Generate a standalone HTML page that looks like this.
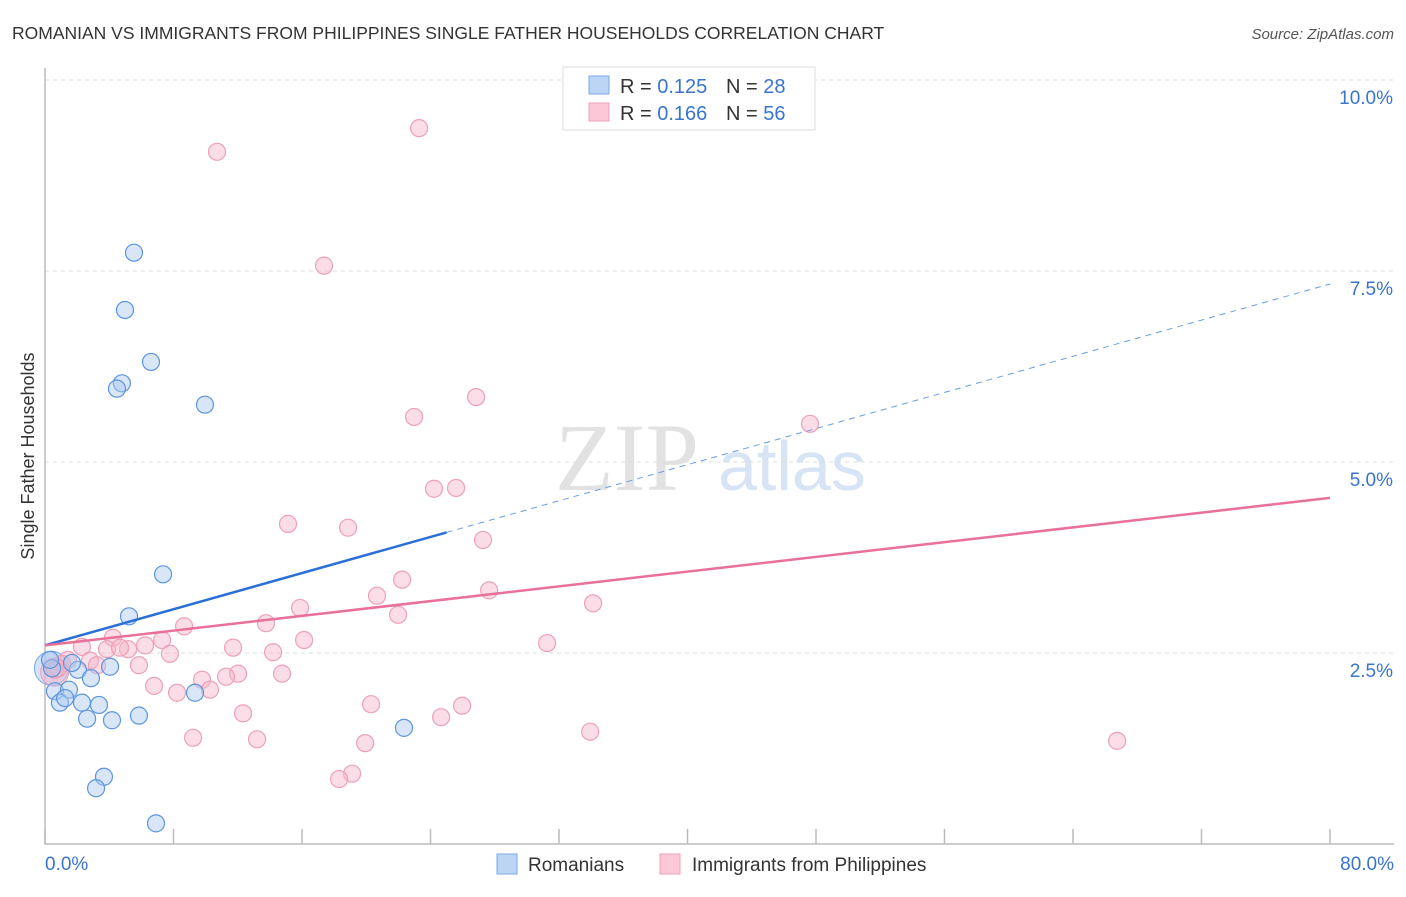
<!DOCTYPE html>
<html><head><meta charset="utf-8"><style>
body{margin:0;background:#fff;font-family:"Liberation Sans",sans-serif;}
</style></head><body>
<svg id="chart" width="1406" height="892" xmlns="http://www.w3.org/2000/svg" font-family="Liberation Sans, sans-serif">
<text x="12" y="39" font-size="17.5" fill="#333">ROMANIAN VS IMMIGRANTS FROM PHILIPPINES SINGLE FATHER HOUSEHOLDS CORRELATION CHART</text>
<text x="1394" y="39" font-size="15" fill="#555" text-anchor="end" font-style="italic">Source: ZipAtlas.com</text>
<text transform="translate(34,456) rotate(-90)" font-size="18" fill="#333" text-anchor="middle">Single Father Households</text>
<g><text x="555" y="490" font-size="96" fill="#e2e2e2" font-family="Liberation Serif, serif">ZIP</text><text x="718" y="490" font-size="70" fill="#d6e4f5">atlas</text></g>
<g id="grid"></g><g id="marks"></g><g id="trends"></g>
<g>
<rect x="563" y="67" width="252" height="63" fill="#fff" stroke="#ddd"/>
<rect x="589" y="76" width="20" height="18" fill="#bcd5f5" stroke="#7aaae6"/>
<rect x="589" y="103" width="20" height="18" fill="#fcc8d8" stroke="#eea0b8"/>
<text x="620" y="93" font-size="20" fill="#333">R = <tspan fill="#3a74d0">0.125</tspan></text>
<text x="726" y="93" font-size="20" fill="#333">N = <tspan fill="#3a74d0">28</tspan></text>
<text x="620" y="120" font-size="20" fill="#333">R = <tspan fill="#3a74d0">0.166</tspan></text>
<text x="726" y="120" font-size="20" fill="#333">N = <tspan fill="#3a74d0">56</tspan></text>
</g>
<g>
<rect x="497" y="854" width="20" height="20" fill="#bcd5f5" stroke="#7aaae6"/>
<text x="528" y="871" font-size="19" fill="#333">Romanians</text>
<rect x="660" y="854" width="20" height="20" fill="#fcc8d8" stroke="#eea0b8"/>
<text x="692" y="871" font-size="19" fill="#333">Immigrants from Philippines</text>
</g>
</svg>
<script>
const yTicks=[2.5,5.0,7.5,10.0];
const yTickLabels=["2.5%","5.0%","7.5%","10.0%"];
const xTicks=[0,8,16,24,32,40,48,56,64,72,80];
const xEndLabels=["0.0%","80.0%"];
const blueX=[5.54,4.98,6.60,4.79,4.48,9.96,7.35,5.23,4.05,2.05,2.86,1.68,0.44,0.62,1.49,0.93,2.30,3.36,1.25,2.62,4.17,5.85,9.34,22.35,3.67,3.18,6.91,0.31];
const blueY=[7.74,6.99,6.31,6.03,5.96,5.75,3.53,2.98,2.32,2.28,2.17,2.37,2.30,2.00,2.02,1.85,1.85,1.82,1.91,1.64,1.62,1.68,1.98,1.52,0.88,0.73,0.27,2.41];
const pinkX=[23.29,10.71,17.37,26.84,22.98,47.63,24.22,25.59,15.13,18.87,27.27,22.23,20.67,27.65,15.88,21.98,34.12,13.76,8.66,16.13,31.26,4.23,7.29,6.23,2.30,3.86,5.17,11.71,14.20,7.78,1.43,2.80,3.24,1.06,5.85,0.62,12.02,14.76,11.27,9.78,6.79,8.22,10.27,12.33,20.30,25.97,24.66,9.22,13.20,19.93,33.94,66.75,19.12,18.31,0.81,4.67];
const pinkY=[9.37,9.06,7.57,5.85,5.59,5.50,4.65,4.66,4.19,4.14,3.98,3.46,3.25,3.32,3.09,3.00,3.15,2.89,2.85,2.67,2.63,2.70,2.67,2.60,2.58,2.55,2.55,2.57,2.51,2.49,2.41,2.40,2.34,2.36,2.34,2.28,2.23,2.23,2.19,2.15,2.07,1.98,2.02,1.71,1.83,1.81,1.66,1.39,1.37,1.32,1.47,1.35,0.92,0.85,2.30,2.57];
const blueTrend=[2.60,7.33]; const blueSolidEnd=25.0;
const pinkTrend=[2.60,4.53];
const NS="http://www.w3.org/2000/svg";
const X=v=>45+v*(1285/80), Y=v=>844-v*76.4;
function mk(t,a,p){const e=document.createElementNS(NS,t);for(const k in a)e.setAttribute(k,a[k]);p.appendChild(e);return e;}
const grid=document.getElementById('grid');
const gl=mk('line',{x1:45,x2:1394,y1:Y(10),y2:Y(10),stroke:"#ddd","stroke-dasharray":"4,4"},grid);

yTicks.forEach((t,i)=>{const l=mk('line',{x1:45,x2:1394,y1:Y(t),y2:Y(t),stroke:"#ddd","stroke-dasharray":"4,4"},grid);

const tx=mk('text',{x:1393,y:Y(t)+24,"font-size":19,fill:"#3a74d0","text-anchor":"end"},grid);tx.textContent=yTickLabels[i];
});
const ax=mk('path',{d:"M45,68 V844 H1394",fill:"none",stroke:"#bbb","stroke-width":1.5},grid);

xTicks.forEach(t=>{const l=mk('line',{x1:X(t),x2:X(t),y1:829,y2:844,stroke:"#bbb","stroke-width":1.5},grid);
});
[[0,"start",45],[80,"end",1394]].forEach((d,i)=>{const tx=mk('text',{x:d[2],y:870,"font-size":19,fill:"#3a74d0","text-anchor":d[1]},grid);tx.textContent=xEndLabels[i];
});
const marks=document.getElementById('marks');
const big1=mk('circle',{cx:X(0.4),cy:Y(2.3),r:17,fill:"rgba(168,200,240,0.5)",stroke:"#7aaae6"},marks);

const big2=mk('circle',{cx:X(0.6),cy:Y(2.25),r:14,fill:"rgba(245,180,200,0.5)",stroke:"#eea0b8"},marks);

pinkX.forEach((x,i)=>{const c=mk('circle',{cx:X(x),cy:Y(pinkY[i]),r:8.5,fill:"rgba(245,180,200,0.45)",stroke:"#eea0b8","stroke-width":1.2},marks);
});
blueX.forEach((x,i)=>{const c=mk('circle',{cx:X(x),cy:Y(blueY[i]),r:8.5,fill:"rgba(168,200,240,0.45)",stroke:"#5b95e0","stroke-width":1.2},marks);
});
const tr=document.getElementById('trends');
const by=v=>blueTrend[0]+(blueTrend[1]-blueTrend[0])*v/80;
let l=mk('line',{x1:X(0),y1:Y(by(0)),x2:X(blueSolidEnd),y2:Y(by(blueSolidEnd)),stroke:"#2a6fd6","stroke-width":2.5},tr);

l=mk('line',{x1:X(blueSolidEnd),y1:Y(by(blueSolidEnd)),x2:X(80),y2:Y(by(80)),stroke:"#6a9de0","stroke-width":1,"stroke-dasharray":"6,5"},tr);

l=mk('line',{x1:X(0),y1:Y(pinkTrend[0]),x2:X(80),y2:Y(pinkTrend[1]),stroke:"#e8709a","stroke-width":2.5},tr);

</script>
</body></html>
